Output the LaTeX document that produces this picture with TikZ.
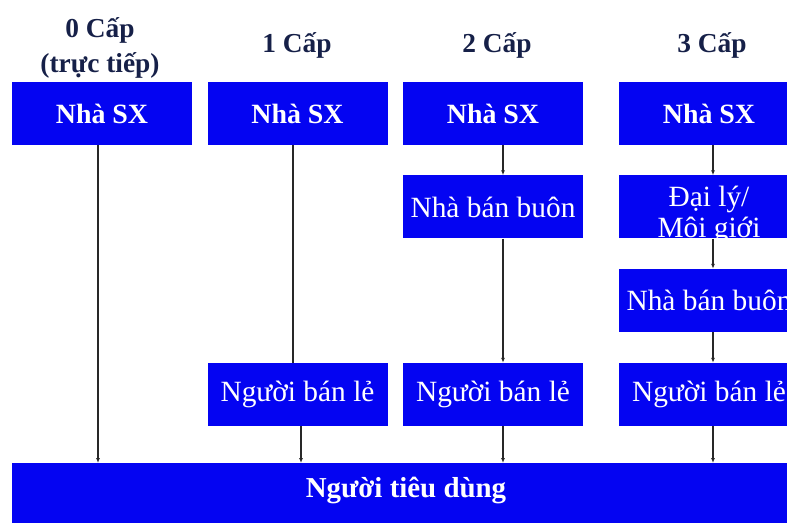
\documentclass[tikz,border=0pt]{standalone}
\usepackage{fontspec}
\setmainfont{Liberation Serif}
\usetikzlibrary{arrows.meta}

\definecolor{boxblue}{RGB}{4,4,242}
\definecolor{headnavy}{RGB}{22,32,72}
\definecolor{linegray}{RGB}{40,40,40}

\begin{document}
\begin{tikzpicture}[x=1bp,y=-1bp]

      \useasboundingbox (0,0) rectangle (787,523);
      \clip (0,0) rectangle (787,523);

      % column headings
      \begin{scope}[every node/.style={text=headnavy,font=\fontsize{27.5}{32}\selectfont\bfseries}]
        \node (h0a) at (100,30) {0 Cấp};
        \node (h0b) at (100,65) {(trực tiếp)};
        \node (h1)  at (297,45) {1 Cấp};
        \node (h2)  at (497,45) {2 Cấp};
        \node (h3)  at (712,45) {3 Cấp};
      \end{scope}

      \begin{scope}[every node/.style={rectangle,fill=boxblue,text=white,
          minimum width=180bp,minimum height=63bp,inner sep=0pt,
          font=\fontsize{29.5}{30.5}\selectfont}]
        \node[font=\fontsize{28}{30}\selectfont\bfseries] (sx0) at (102,113.5) {Nhà SX};
        \node[font=\fontsize{28}{30}\selectfont\bfseries] (sx1) at (297.5,113.5) {Nhà SX};
        \node[font=\fontsize{28}{30}\selectfont\bfseries] (sx2) at (493,113.5) {Nhà SX};
        \node[font=\fontsize{28}{30}\selectfont\bfseries] (sx3) at (709,113.5) {Nhà SX};
        \node (bb2) at (493,207) {Nhà bán buôn};
        \node (dl3) at (709,207) {};
        \node[fill=none,align=center,minimum height=0pt] (dl3t) at (709,215) {Đại lý/\\Môi giới};
        \node (bb3) at (709,300.5) {Nhà bán buôn};
        \node (bl1) at (297.5,394.5) {Người bán lẻ};
        \node (bl2) at (493,394.5) {Người bán lẻ};
        \node (bl3) at (709,394.5) {Người bán lẻ};
        \node[minimum width=786bp,minimum height=64bp,anchor=north west] (td) at (12,463) {};
        \node[fill=none,font=\fontsize{29}{30}\selectfont\bfseries] (tdl) at (406,490) {Người tiêu dùng};
      \end{scope}

      \begin{scope}[every edge/.style={draw=linegray,line width=1.3bp,
          -{Latex[length=5bp,width=4bp]}}]
        \path ([xshift=-4bp]sx0.south) edge ([xshift=-4bp]sx0.south |- td.north);
        \path ([xshift=-4.5bp]sx1.south) edge[-] ([xshift=-4.5bp]bl1.north);
        \path ([xshift=3.5bp]bl1.south) edge ([xshift=3.5bp]bl1.south |- td.north);
        \path ([xshift=10bp]sx2.south) edge ([xshift=10bp]bb2.north);
        \path ([xshift=10bp]bb2.south) edge ([xshift=10bp]bl2.north);
        \path ([xshift=10bp]bl2.south) edge ([xshift=10bp]bl2.south |- td.north);
        \path ([xshift=4bp]sx3.south) edge ([xshift=4bp]dl3.north);
        \path ([xshift=4bp]dl3.south) edge ([xshift=4bp]bb3.north);
        \path ([xshift=4bp]bb3.south) edge ([xshift=4bp]bl3.north);
        \path ([xshift=4bp]bl3.south) edge ([xshift=4bp]bl3.south |- td.north);
      \end{scope}

    \end{tikzpicture}
\end{document}
